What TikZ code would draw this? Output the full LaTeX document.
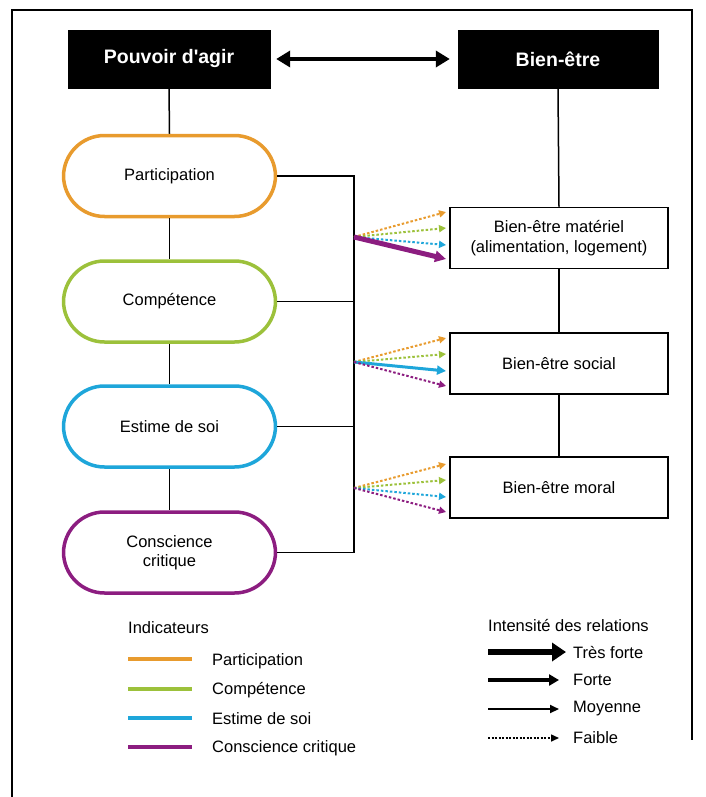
\documentclass[tikz,border=0pt]{standalone}
\usepackage{fontspec}
\setmainfont{Liberation Sans}
\usetikzlibrary{arrows.meta}
\definecolor{corange}{HTML}{E89B2E}
\definecolor{cgreen}{HTML}{9CC13B}
\definecolor{cblue}{HTML}{1EA6DA}
\definecolor{cpurple}{HTML}{8C1D80}
\tikzset{
  body/.style={font=\fontsize{16.5}{19.5}\selectfont},
  blackbox/.style={fill=black,draw=black,text=white,minimum width=202pt,minimum height=58pt,inner sep=0pt,font=\fontsize{19.5}{22}\selectfont\bfseries},
  pill/.style={body,draw,line width=3.5pt,rounded corners=41pt,minimum width=212pt,minimum height=81pt,inner sep=0pt,align=center,fill=white},
  wbox/.style={body,draw=black,line width=1.5pt,minimum width=218pt,minimum height=61pt,inner sep=0pt,align=center,fill=white},
  conn/.style={draw=black,line width=1.5pt},
  weak/.style={line width=2pt,dash pattern=on 2.5pt off 2pt,-{Triangle[length=7pt,width=7pt]}},
  strong/.style={line width=3pt,-{Triangle[length=9pt,width=9pt]}},
  vstrong/.style={line width=5pt,-{Triangle[length=11pt,width=11pt]}},
  legtext/.style={body,anchor=west,inner sep=0pt},
}
\begin{document}
\begin{tikzpicture}[x=1pt,y=-1pt]
\useasboundingbox (0,0) rectangle (705,797);
% frame
\draw[line width=1.3pt] (12,797) -- (12,10) -- (692,10) -- (692,740);

% top boxes
\node[blackbox] (pa) at (169,59) {Pouvoir d\textquotesingle agir};
\node[blackbox,minimum width=200pt] (be) at (558,59) {Bien-être};
\draw[line width=4pt,{Triangle[length=14pt,width=16pt]}-{Triangle[length=14pt,width=16pt]},shorten <=6pt,shorten >=8pt] (pa) -- (be);

% pills
\node[pill,draw=corange] (p1) at (169.5,176) {Participation};
\node[pill,draw=cgreen] (p2) at (169.5,301.5) {Compétence};
\node[pill,draw=cblue] (p3) at (169.5,426.5) {Estime de soi};
\node[pill,draw=cpurple] (p4) at (169.5,552.5) {Conscience\\critique};

\draw[conn] (pa.south) -- (p1.north);
\draw[conn] (p1.south) -- (p2.north);
\draw[conn] (p2.south) -- (p3.north);
\draw[conn] (p3.south) -- (p4.north);

% bus
\coordinate (b1) at (354,176);
\coordinate (b2) at (354,301.5);
\coordinate (b3) at (354,426.5);
\coordinate (b4) at (354,552.5);
\draw[conn] (p1.east) -- (b1) -- (b4);
\draw[conn] (p2.east) -- (b2);
\draw[conn] (p3.east) -- (b3);
\draw[conn] (p4.east) -- (b4);

% right boxes
\node[wbox] (m1) at (559,238) {Bien-être matériel\\(alimentation, logement)};
\node[wbox] (m2) at (559,363.5) {Bien-être social};
\node[wbox] (m3) at (559,487.5) {Bien-être moral};
\draw[conn] (be.south) -- (m1.north);
\draw[conn] (m1.south) -- (m2.north);
\draw[conn] (m2.south) -- (m3.north);

% fan 1
\coordinate (f1) at (354,237);
\coordinate (t1a) at (446,212);
\coordinate (t1b) at (446,228);
\coordinate (t1c) at (446,245);
\coordinate (t1d) at (446,259);
\draw[weak,corange] (f1) -- (t1a);
\draw[weak,cgreen] (f1) -- (t1b);
\draw[weak,cblue] (f1) -- (t1c);
\draw[vstrong,cpurple] (f1) -- (t1d);

% fan 2
\coordinate (f2) at (354,362);
\coordinate (t2a) at (446,338);
\coordinate (t2b) at (446,354);
\coordinate (t2c) at (446,371);
\coordinate (t2d) at (446,386);
\draw[weak,corange] (f2) -- (t2a);
\draw[weak,cgreen] (f2) -- (t2b);
\draw[strong,cblue] (f2) -- (t2c);
\draw[weak,cpurple] (f2) -- (t2d);

% fan 3
\coordinate (f3) at (354,488);
\coordinate (t3a) at (446,464);
\coordinate (t3b) at (446,480);
\coordinate (t3c) at (446,497);
\coordinate (t3d) at (446,512);
\draw[weak,corange] (f3) -- (t3a);
\draw[weak,cgreen] (f3) -- (t3b);
\draw[weak,cblue] (f3) -- (t3c);
\draw[weak,cpurple] (f3) -- (t3d);

% legend: indicators
\node[legtext] (lind) at (128,628) {Indicateurs};
\coordinate (l1a) at (128,659); \coordinate (l1b) at (192,659);
\coordinate (l2a) at (128,689); \coordinate (l2b) at (192,689);
\coordinate (l3a) at (128,718); \coordinate (l3b) at (192,718);
\coordinate (l4a) at (128,747); \coordinate (l4b) at (192,747);
\draw[line width=4pt,corange] (l1a) -- (l1b);
\draw[line width=4pt,cgreen] (l2a) -- (l2b);
\draw[line width=4pt,cblue] (l3a) -- (l3b);
\draw[line width=4pt,cpurple] (l4a) -- (l4b);
\node[legtext] (li1) at (212,661) {Participation};
\node[legtext] (li2) at (212,690) {Compétence};
\node[legtext] (li3) at (212,719) {Estime de soi};
\node[legtext] (li4) at (212,748) {Conscience critique};

% legend: intensity
\node[legtext] (lint) at (488,625) {Intensité des relations};
\coordinate (r1a) at (488,652); \coordinate (r1b) at (566,652);
\coordinate (r2a) at (488,680); \coordinate (r2b) at (559,680);
\coordinate (r3a) at (488,709); \coordinate (r3b) at (559,709);
\coordinate (r4a) at (488,738); \coordinate (r4b) at (559,738);
\draw[line width=6pt,-{Triangle[length=14pt,width=18pt]}] (r1a) -- (r1b);
\draw[line width=4pt,-{Triangle[length=10pt,width=11pt]}] (r2a) -- (r2b);
\draw[line width=2pt,-{Triangle[length=9pt,width=8pt]}] (r3a) -- (r3b);
\draw[line width=1.5pt,dash pattern=on 2pt off 1.5pt,-{Triangle[length=8pt,width=7pt]}] (r4a) -- (r4b);
\node[legtext] (lr1) at (573,652) {Très forte};
\node[legtext] (lr2) at (573,680) {Forte};
\node[legtext] (lr3) at (573,709) {Moyenne};
\node[legtext] (lr4) at (573,738) {Faible};
\end{tikzpicture}
\end{document}
